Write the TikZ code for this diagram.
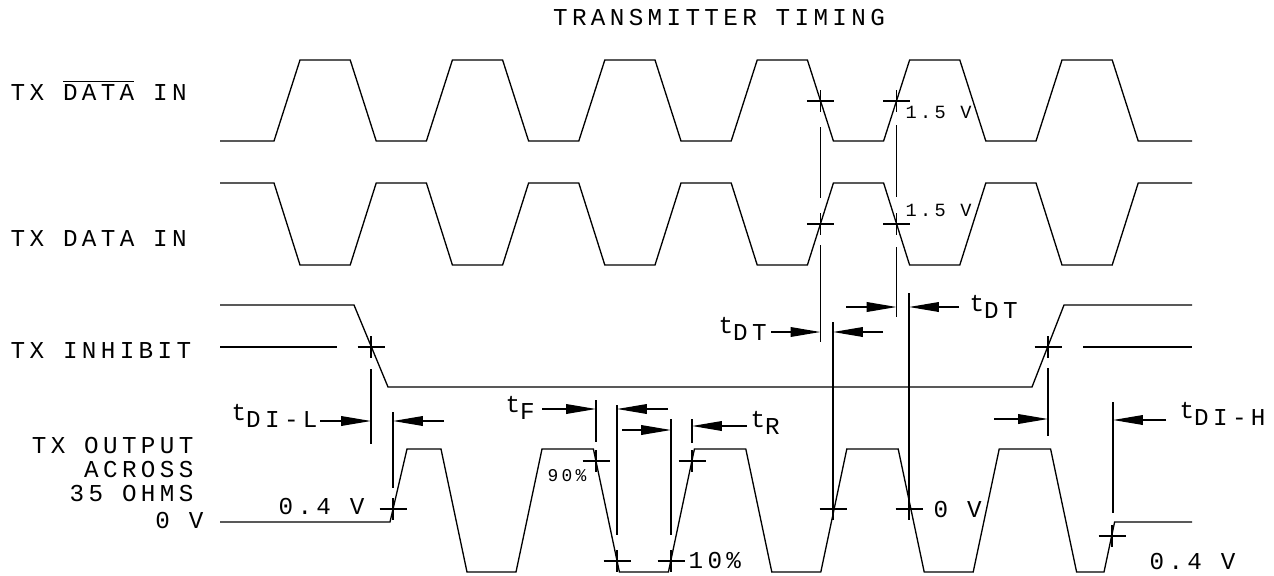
\documentclass[tikz,border=0pt]{standalone}
\usepackage{fontspec}
\setmainfont{Liberation Mono}[LetterSpace=18]
\usetikzlibrary{arrows.meta}
\newcommand{\tlab}[1]{t\raisebox{-4pt}{#1}}

\begin{document}
\begin{tikzpicture}[x=0.02cm, y=-0.02cm, line width=0.75pt,
	every node/.style={font=\fontsize{13.8}{14}\selectfont, inner sep=0pt},
	small/.style={font=\fontsize{10.6}{11}\selectfont},
	tiny/.style={font=\fontsize{10.2}{11}\selectfont},
	dim/.style={-{Triangle[length=17pt,width=5.5pt]}},
	tick/.pic={\draw (-13.5,0) -- (13.5,0) (0,-11) -- (0,11);}]
			\useasboundingbox (0,0) rectangle (1274,575);
			
			\node (title) at (719,18){TRANSMITTER TIMING};
			\node[anchor=base west] (datab) at (10,100){TX $\overline{\mbox{DATA}}$ IN};
			\node[anchor=base west] (data) at (10,246){TX DATA IN};
			\node[anchor=base west] (inh) at (10,358){TX INHIBIT};
			\node[anchor=base east] (out1) at (194,453){TX OUTPUT};
			\node[anchor=base east] (out2) at (194,477){ACROSS};
			\node[anchor=base east] (out3) at (194,501){35 OHMS};
			\node[anchor=base east] (zero) at (204,528){0 V};
			
			\node[anchor=base west, small] (v15a) at (905,118){1.5 V};
			\node[anchor=base west, small] (v15b) at (905,216){1.5 V};
			\node[anchor=base west] (tdt1) at (718,333){\tlab{DT}};
			\node[anchor=base west] (tdt2) at (969,311){\tlab{DT}};
			\node[anchor=base west] (tdil) at (231,420){\tlab{DI-L}};
			\node[anchor=base west] (tf) at (505,412){\tlab{F}};
			\node[anchor=base west] (tr) at (750,427){\tlab{R}};
			\node[anchor=base west] (tdih) at (1179,418){\tlab{DI-H}};
			\node[anchor=base west] (v04a) at (278,514){0.4 V};
			\node[anchor=base west, tiny] (p90) at (547,481){90\%};
			\node[anchor=base west] (p10) at (688,568){10\%};
			\node[anchor=base west] (v0) at (933,517){0 V};
			\node[anchor=base west] (v04b) at (1149,569){0.4 V};
			
			\draw (220,141) \foreach \i in {0,...,5}{ -- (274+152.4*\i,141) -- (300+152.4*\i,60) -- (350.2+152.4*\i,60) -- (376.2+152.4*\i,141)} -- (1192,141);
			\draw (220,183) \foreach \i in {0,...,5}{ -- (274+152.4*\i,183) -- (300+152.4*\i,265) -- (350.2+152.4*\i,265) -- (376.2+152.4*\i,183)} -- (1192,183);
			\draw (220,305) -- (354,305) -- (388,387) -- (1032,387) -- (1064,305) -- (1192,305);
			\draw (220,347) -- (337,347) (1083,347) -- (1192,347);
			\draw (220,522) -- (390,522) -- (407,449) \foreach \i in {0,...,3}{ -- (441+152.4*\i,449) -- (467+152.4*\i,572) -- (516+152.4*\i,572) -- (542+152.4*\i,449)} -- (1050.6,449) -- (1076.6,572) -- (1104,572) -- (1114.6,522) -- (1192,522);
			
			\foreach \x/\y in {820.4/101, 896.6/101, 820.4/224, 896.6/224, 371/347, 1048/347, 393/509, 596/461, 617/561, 671/561, 692/461, 833/509, 909/509, 1112/536}
				\pic at (\x,\y) {tick};
			
			\draw (820.4,127) -- (820.4,198) (820.4,245) -- (820.4,342);
			\draw (896.6,125) -- (896.6,197) (896.6,247) -- (896.6,317);
			\draw (833,322) -- (833,518);
			\draw (909,293) -- (909,518);
			\draw (371,369) -- (371,444);
			\draw (393,412) -- (393,488);
			\draw (596,400) -- (596,442);
			\draw (617,405) -- (617,535);
			\draw (671,419) -- (671,535);
			\draw (692,419) -- (692,443);
			\draw (1048,368) -- (1048,436);
			\draw (1113,402) -- (1113,513);
			
			\draw[dim] (771,332) -- (820.4,332);
			\draw[dim] (883,332) -- (833,332);
			\draw[dim] (846,307) -- (896.6,307);
			\draw[dim] (959,307) -- (909,307);
			\draw[dim] (320,421) -- (371,421);
			\draw[dim] (444,421) -- (393,421);
			\draw[dim] (542,409) -- (596,409);
			\draw[dim] (668,409) -- (617,409);
			\draw[dim] (622,430) -- (671,430);
			\draw[dim] (747,426) -- (692,426);
			\draw[dim] (994,419) -- (1048,419);
			\draw[dim] (1166,420) -- (1113,420);
\end{tikzpicture}
\end{document}
